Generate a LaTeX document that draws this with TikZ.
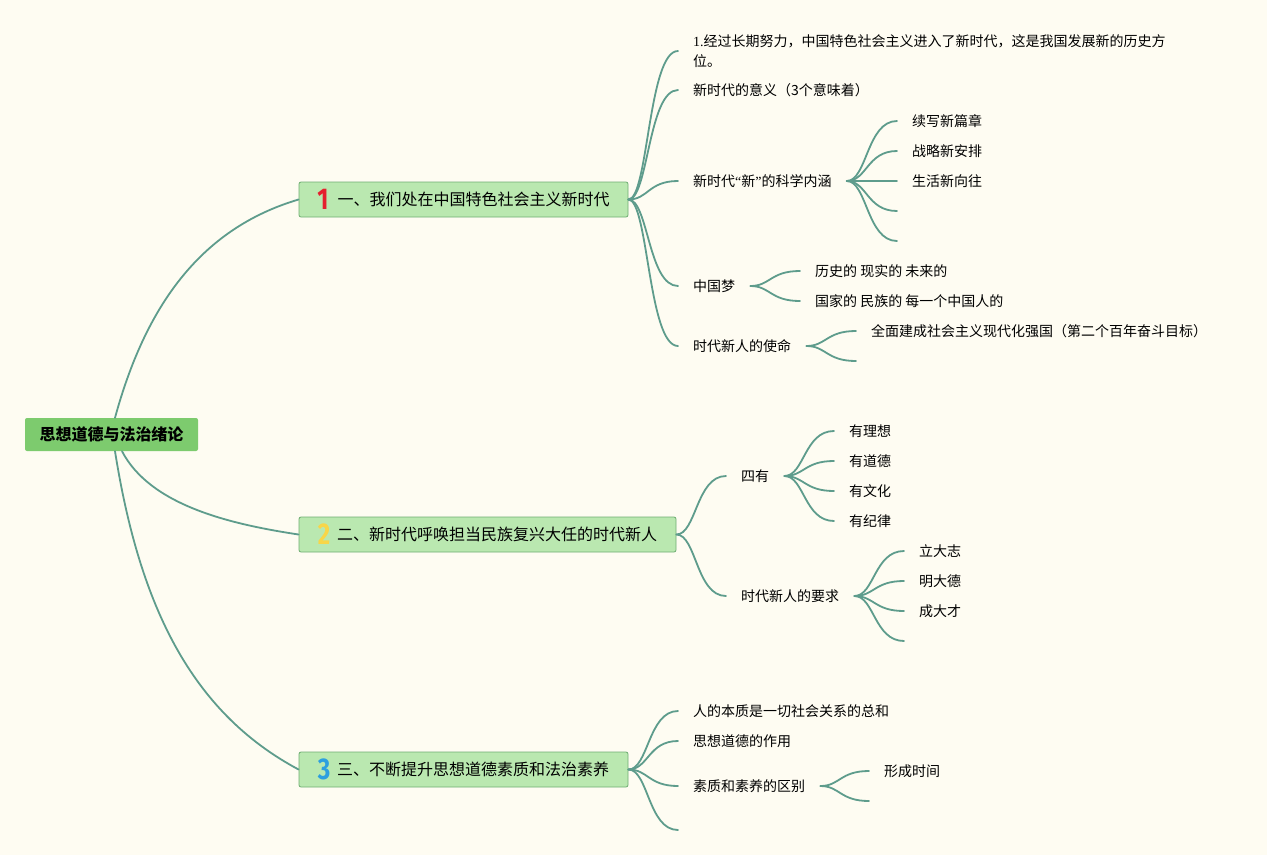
\documentclass[tikz,border=0pt]{standalone}
\usepackage{fontspec}
\setmainfont{Noto Sans CJK SC}
\newfontfamily\numfont{Fira Sans}
\newfontfamily\seriffont{Liberation Serif}
\usetikzlibrary{calc}
\definecolor{bg}{HTML}{FEFCF2}
\definecolor{rootfill}{HTML}{7DCB6E}
\definecolor{boxfill}{HTML}{BAE8B0}
\definecolor{boxline}{HTML}{6FAE72}
\definecolor{conncol}{HTML}{5E9C8C}
\definecolor{nred}{HTML}{E5202E}
\definecolor{nyellow}{HTML}{F8D648}
\definecolor{nblue}{HTML}{2E9FDF}
\newcommand{\numlabel}[2]{\raisebox{-4pt}{\color{#1}\numfont\bfseries\fontsize{30}{30}\selectfont\scalebox{0.8}[1]{#2}}}
\begin{document}
\begin{tikzpicture}[x=1pt,y=-1pt,
  rootbox/.style={fill=rootfill, rounded corners=2pt, minimum width=173pt, minimum height=33pt, inner sep=0pt, font=\bfseries\fontsize{16}{18}\selectfont},
  branchbox/.style={fill=boxfill, draw=boxline, line width=0.8pt, rounded corners=2pt, minimum height=35pt, inner xsep=6pt, inner ysep=0pt, font=\fontsize{16}{18}\selectfont},
  leaf/.style={anchor=west, inner xsep=15pt, inner ysep=2pt, font=\fontsize{14}{20}\selectfont, align=left},
  conn/.style={draw=conncol, line width=1.8pt, line cap=round},
  mm/.style={to path={let \p1=(\tikztostart), \p2=(\tikztotarget) in
     .. controls ({\x1+0.4*(\x2-\x1)},\y1) and ({\x1+0.4*(\x2-\x1)},\y2) .. (\tikztotarget)}}
]
\fill[bg] (0,0) rectangle (1267,855);
\useasboundingbox (0,0) rectangle (1267,855);

% root and main branches
\node[rootbox] (root) at (111.5,434.5) {思想道德与法治绪论};
\node[branchbox, minimum width=329pt] (b1) at (463.5,199.5) {\numlabel{nred}{1}\hspace{9pt}一、我们处在中国特色社会主义新时代};
\node[branchbox, minimum width=377pt] (b2) at (487.5,534.5) {\numlabel{nyellow}{2}\hspace{7pt}二、新时代呼唤担当民族复兴大任的时代新人};
\node[branchbox, minimum width=329pt] (b3) at (463.5,769.5) {\numlabel{nblue}{3}\hspace{7pt}三、不断提升思想道德素质和法治素养};

\coordinate (rt) at ($(root.north)+(3.5,0)$);
\coordinate (rb2) at ($(root.south)+(10.5,0)$);
\coordinate (rb3) at ($(root.south)+(3.5,0)$);
\draw[conn] (rt) .. controls (145,308) and (199,229) .. (b1.west);
\draw[conn] (rb2) .. controls (150,505) and (229,524) .. (b2.west);
\draw[conn] (rb3) .. controls (139,602) and (189,711) .. (b3.west);

% branch 1
\node[leaf] (l11) at (678,51) {{\seriffont 1.}经过长期努力，中国特色社会主义进入了新时代，这是我国发展新的历史方\\位。};
\node[leaf] (l12) at (678,90) {新时代的意义（3个意味着）};
\node[leaf] (l13) at (678,181) {新时代{\seriffont “}新{\seriffont ”}的科学内涵};
\node[leaf] (l14) at (678,286) {中国梦};
\node[leaf] (l15) at (678,346) {时代新人的使命};
\foreach \t in {l11,l12,l13,l14,l15} \draw[conn] (b1.east) to[mm] (\t.west);

\node[leaf] (l131) at (897,121) {续写新篇章};
\node[leaf] (l132) at (897,151) {战略新安排};
\node[leaf] (l133) at (897,181) {生活新向往};
\coordinate (e134) at (897,211);
\coordinate (e135) at (897,241);
\foreach \t in {l131,l132,l133} \draw[conn] (l13.east) to[mm] (\t.west);
\foreach \t in {e134,e135} \draw[conn] (l13.east) to[mm] (\t);

\node[leaf] (l141) at (800,271) {历史的 现实的 未来的};
\node[leaf] (l142) at (800,301) {国家的 民族的 每一个中国人的};
\foreach \t in {l141,l142} \draw[conn] (l14.east) to[mm] (\t.west);

\node[leaf] (l151) at (856,331) {全面建成社会主义现代化强国（第二个百年奋斗目标）};
\coordinate (e152) at (856,361);
\draw[conn] (l15.east) to[mm] (l151.west);
\draw[conn] (l15.east) to[mm] (e152);

% branch 2
\node[leaf] (l21) at (726,476) {四有};
\node[leaf] (l22) at (726,596) {时代新人的要求};
\foreach \t in {l21,l22} \draw[conn] (b2.east) to[mm] (\t.west);

\node[leaf] (l211) at (834,431) {有理想};
\node[leaf] (l212) at (834,461) {有道德};
\node[leaf] (l213) at (834,491) {有文化};
\node[leaf] (l214) at (834,521) {有纪律};
\foreach \t in {l211,l212,l213,l214} \draw[conn] (l21.east) to[mm] (\t.west);

\node[leaf] (l221) at (904,551) {立大志};
\node[leaf] (l222) at (904,581) {明大德};
\node[leaf] (l223) at (904,611) {成大才};
\coordinate (e224) at (904,641);
\foreach \t in {l221,l222,l223} \draw[conn] (l22.east) to[mm] (\t.west);
\draw[conn] (l22.east) to[mm] (e224);

% branch 3
\node[leaf] (l31) at (678,711) {人的本质是一切社会关系的总和};
\node[leaf] (l32) at (678,741) {思想道德的作用};
\node[leaf] (l33) at (678,786) {素质和素养的区别};
\coordinate (e34) at (678,830);
\foreach \t in {l31,l32,l33} \draw[conn] (b3.east) to[mm] (\t.west);
\draw[conn] (b3.east) to[mm] (e34);

\node[leaf] (l331) at (869,771) {形成时间};
\coordinate (e332) at (869,801);
\draw[conn] (l33.east) to[mm] (l331.west);
\draw[conn] (l33.east) to[mm] (e332);
\end{tikzpicture}
\end{document}
